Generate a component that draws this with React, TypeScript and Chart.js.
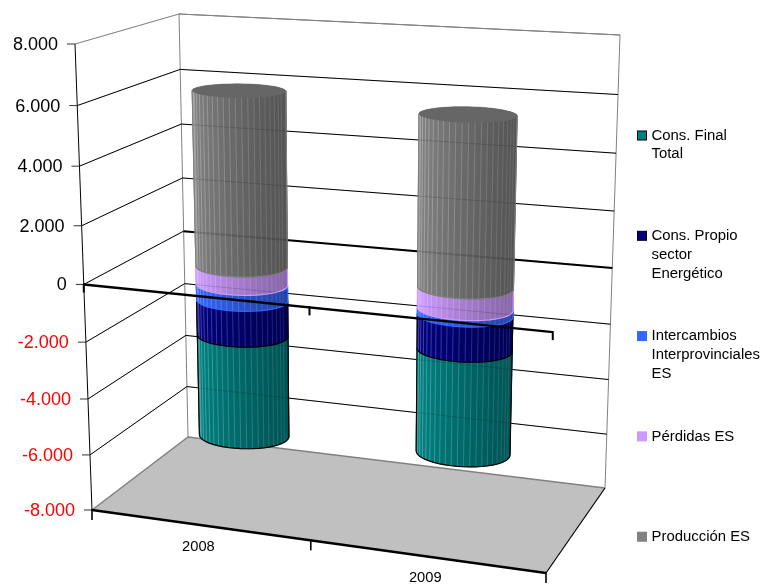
import React, { useEffect, useRef } from "react";
import { Chart, registerables, BarController, BarElement, LinearScale, CategoryScale } from "chart.js";

const categories = ["2008", "2009"];
const produccion = [6100, 5800];
const perdidas = [-640, -730];
const intercambios = [-560, -220];
const consPropio = [-1270, -1200];
const consFinal = [-3660, -3640];
const yTickMin = -8000;
const yTickMax = 8000;
const yTickStep = 2000;
const legendLabels: Record<string, string[]> = {
  "Cons. Final Total": ["Cons. Final", "Total"],
  "Cons. Propio sector Energético": ["Cons. Propio", "sector", "Energético"],
  "Intercambios Interprovinciales ES": ["Intercambios", "Interprovinciales", "ES"],
  "Pérdidas ES": ["Pérdidas ES"],
  "Producción ES": ["Producción ES"],
};

type P = { x: number; y: number };
const FONT = '"Liberation Sans", Arial, sans-serif';

function homography(q: number[][]) {
  const [[x0, y0], [x1, y1], [x2, y2], [x3, y3]] = q;
  const dx1 = x1 - x2, dx2 = x3 - x2, sx = x0 - x1 + x2 - x3;
  const dy1 = y1 - y2, dy2 = y3 - y2, sy = y0 - y1 + y2 - y3;
  const den = dx1 * dy2 - dx2 * dy1;
  const g = (sx * dy2 - dx2 * sy) / den;
  const h = (dx1 * sy - sx * dy1) / den;
  const a = x1 - x0 + g * x1, b = x3 - x0 + h * x3;
  const d = y1 - y0 + g * y1, e = y3 - y0 + h * y3;
  return (u: number, t: number): P => {
    const k = g * u + h * t + 1;
    return { x: (a * u + b * t + x0) / k, y: (d * u + e * t + y0) / k };
  };
}

// The box of the 3-D chart: top-left, top-right, bottom-right, bottom-left.
const front = homography([[75, 44], [560, 74], [546, 573], [92, 510]]);
const back = homography([[179, 14], [620, 35], [605, 488], [188, 437]]);
const project = (u: number, t: number, w: number): P => {
  const f = front(u, t), b = back(u, t);
  return { x: f.x + (b.x - f.x) * w, y: f.y + (b.y - f.y) * w };
};

const BAR_DEPTH = 0.52;
const BAR_DEPTH_RADIUS = 0.17;
const FACETS = 48;

function rgb(hex: string) {
  return [1, 3, 5].map((i) => parseInt(hex.slice(i, i + 2), 16));
}
function css(c: number[]) {
  return `rgb(${c.map((v) => Math.round(Math.min(255, v))).join(",")})`;
}

class CylinderElement extends BarElement {
  static id = "cylinder";
  draw(ctx: CanvasRenderingContext2D) {
    const chart = Chart.getChart(ctx.canvas);
    if (!chart) return;
    const area = chart.chartArea;
    const opts: any = (this as any).options;
    const { x, y, base, width } = (this as any).getProps(["x", "y", "base", "width"], true);
    const cu = (x - area.left) / area.width;
    const ru = width / area.width / 2;
    const t1 = (Math.min(y, base) - area.top) / area.height;
    const t2 = (Math.max(y, base) - area.top) / area.height;
    const colour = rgb(opts.backgroundColor);
    const ring = (t: number) => {
      const pts: P[] = [];
      for (let i = 0; i < FACETS; i++) {
        const a = (i / FACETS) * Math.PI * 2;
        pts.push(project(cu + ru * Math.cos(a), t, BAR_DEPTH + BAR_DEPTH_RADIUS * Math.sin(a)));
      }
      return pts;
    };
    const top = ring(t1), bot = ring(t2);
    ctx.save();
    ctx.lineJoin = "round";
    // back facets first, then the front ones
    const order = Array.from({ length: FACETS }, (_, i) => i).sort(
      (i, j) => Math.sin(((j + 0.5) / FACETS) * 2 * Math.PI) - Math.sin(((i + 0.5) / FACETS) * 2 * Math.PI)
    );
    for (const i of order) {
      const j = (i + 1) % FACETS;
      const a = ((i + 0.5) / FACETS) * Math.PI * 2;
      const k = 0.86 - 0.19 * Math.cos(a);
      const c = css(colour.map((v) => v * k));
      ctx.beginPath();
      ctx.moveTo(top[i].x, top[i].y);
      ctx.lineTo(top[j].x, top[j].y);
      ctx.lineTo(bot[j].x, bot[j].y);
      ctx.lineTo(bot[i].x, bot[i].y);
      ctx.closePath();
      ctx.fillStyle = c;
      ctx.strokeStyle = c;
      ctx.lineWidth = 0.6;
      ctx.fill();
      ctx.stroke();
    }
    // light ribs on the visible side
    for (let i = 0; i < FACETS; i++) {
      const a = (i / FACETS) * Math.PI * 2;
      if (Math.sin(a) >= -0.05) continue;
      const mix = 0.22 - 0.1 * Math.cos(a);
      const k = 0.86 - 0.19 * Math.cos(a);
      ctx.strokeStyle = css(colour.map((v) => v * k + (255 - v * k) * mix));
      ctx.lineWidth = 0.9;
      ctx.beginPath();
      ctx.moveTo(top[i].x, top[i].y);
      ctx.lineTo(bot[i].x, bot[i].y);
      ctx.stroke();
    }
    // outline of the visible side
    const extreme = (pts: P[], sign: number) =>
      pts.reduce((best, p, i) => (sign * p.x > sign * pts[best].x ? i : best), 0);
    const left = extreme(bot, -1), right = extreme(bot, 1);
    ctx.strokeStyle = opts.borderColor;
    ctx.lineWidth = 1.2;
    ctx.beginPath();
    ctx.moveTo(top[extreme(top, -1)].x, top[extreme(top, -1)].y);
    ctx.lineTo(bot[left].x, bot[left].y);
    for (let i = left; ; i = (i + 1) % FACETS) {
      ctx.lineTo(bot[i].x, bot[i].y);
      if (i === right) break;
    }
    ctx.lineTo(top[extreme(top, 1)].x, top[extreme(top, 1)].y);
    ctx.stroke();
    // cap
    if (y < base) {
      ctx.beginPath();
      top.forEach((p, i) => (i ? ctx.lineTo(p.x, p.y) : ctx.moveTo(p.x, p.y)));
      ctx.closePath();
      ctx.fillStyle = css(colour.map((v) => v * 0.8));
      ctx.fill();
    }
    ctx.restore();
  }
}

class CylinderController extends BarController {
  static id = "cylinder";
  static defaults = { dataElementType: "cylinder" };
}

class PerspectiveLinear extends LinearScale {
  static id = "perspectiveLinear";
  _computeLabelArea() {
    return undefined;
  }
  _computeLabelItems(chartArea: any) {
    const items = (LinearScale.prototype as any)._computeLabelItems.call(this, chartArea);
    const self: any = this;
    items.forEach((item: any, i: number) => {
      const t = (self.getPixelForValue(self.ticks[i].value) - self.top) / self.height;
      const p = project(0, t, 0);
      item.options.translation = [p.x - 17, p.y + 1];
      item.options.textAlign = "right";
      item.options.textBaseline = "middle";
      item.textOffset = 0;
    });
    return items;
  }
}

class PerspectiveCategory extends CategoryScale {
  static id = "perspectiveCategory";
  _computeLabelArea() {
    return undefined;
  }
  _computeLabelItems(chartArea: any) {
    const items = (CategoryScale.prototype as any)._computeLabelItems.call(this, chartArea);
    const self: any = this;
    items.forEach((item: any, i: number) => {
      const u = (self.getPixelForTick(i) - self.left) / self.width;
      const p = project(u, 1, 0);
      item.options.translation = [p.x - 1, p.y + 22];
      item.options.textAlign = "center";
      item.options.textBaseline = "middle";
      item.textOffset = 0;
    });
    return items;
  }
}

function line(ctx: CanvasRenderingContext2D, pts: P[], colour: string, width: number) {
  ctx.strokeStyle = colour;
  ctx.lineWidth = width;
  ctx.beginPath();
  pts.forEach((p, i) => (i ? ctx.lineTo(p.x, p.y) : ctx.moveTo(p.x, p.y)));
  ctx.stroke();
}

const levelT = (chart: any, value: number) => {
  const s = chart.scales.y;
  return (s.getPixelForValue(value) - s.top) / s.height;
};

function backGrid(chart: any, ctx: CanvasRenderingContext2D) {
  const s = chart.scales.y;
  s.ticks.forEach((tick: any) => {
    const t = levelT(chart, tick.value);
    const isTop = tick.value === s.max, isBottom = tick.value === s.min, isZero = tick.value === 0;
    if (isBottom) return;
    line(ctx, [project(0, t, 0), project(0, t, 1)], isTop ? "#808080" : "#000", 1);
    line(ctx, [project(0, t, 1), project(1, t, 1)], isTop ? "#808080" : "#000", isZero ? 2 : 1);
  });
}

const walls = {
  id: "walls",
  beforeDatasetsDraw(chart: any) {
    const ctx: CanvasRenderingContext2D = chart.ctx;
    ctx.save();
    ctx.lineCap = "butt";
    const a = project(0, 1, 0), b = project(1, 1, 0), c = project(1, 1, 1), d = project(0, 1, 1);
    ctx.fillStyle = "#C0C0C0";
    ctx.beginPath();
    [a, b, c, d].forEach((p, i) => (i ? ctx.lineTo(p.x, p.y) : ctx.moveTo(p.x, p.y)));
    ctx.closePath();
    ctx.fill();
    line(ctx, [a, d, c], "#808080", 1.5);
    line(ctx, [b, c], "#000", 1.2);
    line(ctx, [a, b], "#000", 2.4);
    line(ctx, [d, project(0, 0, 1), project(1, 0, 1), c], "#808080", 1);
    backGrid(chart, ctx);
    line(ctx, [project(0, 0, 0), a], "#000", 1);
    chart.scales.y.ticks.forEach((tick: any) => {
      const p = project(0, levelT(chart, tick.value), 0);
      line(ctx, [{ x: p.x - 8, y: p.y }, p], "#333", 1);
    });
    categories.concat("").forEach((_, i) => {
      const p = project(i / categories.length, 1, 0);
      line(ctx, [{ x: p.x, y: p.y - 1 }, { x: p.x, y: p.y + 10 }], "#000", 1.6);
    });
    ctx.restore();
  },
  afterDatasetsDraw(chart: any) {
    const ctx: CanvasRenderingContext2D = chart.ctx;
    ctx.save();
    ctx.globalAlpha = 0.14;
    backGrid(chart, ctx);
    ctx.globalAlpha = 1;
    const t = levelT(chart, 0);
    line(ctx, [project(0, t, 0), project(1, t, 0)], "#000", 2.4);
    categories.concat("").forEach((_, i) => {
      const p = project(i / categories.length, t, 0);
      line(ctx, [{ x: p.x, y: p.y - 1 }, { x: p.x, y: p.y + 8 }], "#000", 2);
    });
    ctx.restore();
  },
};

const legendPanel = {
  id: "legendPanel",
  afterDraw(chart: any) {
    const ctx: CanvasRenderingContext2D = chart.ctx;
    const LINE = 18.8, PITCH = 100.3;
    ctx.save();
    ctx.font = `14.9px ${FONT}`;
    ctx.textBaseline = "middle";
    ctx.textAlign = "left";
    ctx.fillStyle = "#000";
    [...chart.data.datasets].reverse().forEach((ds: any, i: number) => {
      const y = 135.5 + i * PITCH;
      ctx.fillStyle = ds.backgroundColor;
      ctx.fillRect(637.5, y - 4.5, 9, 9);
      ctx.strokeStyle = ds.borderColor;
      ctx.lineWidth = 1;
      ctx.strokeRect(637.5, y - 4.5, 9, 9);
      ctx.fillStyle = "#000";
      legendLabels[ds.label].forEach((text, j) => ctx.fillText(text, 651.5, y + j * LINE));
    });
    ctx.restore();
  },
};

Chart.register(...registerables, CylinderElement as any, CylinderController as any, PerspectiveLinear as any, PerspectiveCategory as any);

export default function App() {
  const ref = useRef<HTMLCanvasElement>(null);
  useEffect(() => {
    document.body.style.margin = "0";
    document.body.style.background = "#fff";
    const mk = (label: string, data: number[], backgroundColor: string, borderColor: string) => ({
      label, data, backgroundColor, borderColor, borderWidth: 1, clip: false as any,
      barPercentage: 0.4, categoryPercentage: 1,
    });
    const chart = new Chart(ref.current!, {
      type: "cylinder" as any,
      data: {
        labels: categories,
        datasets: [
          mk("Producción ES", produccion, "#808080", "#808080"),
          mk("Pérdidas ES", perdidas, "#CC99FF", "#CC99FF"),
          mk("Intercambios Interprovinciales ES", intercambios, "#3366FF", "#3366FF"),
          mk("Cons. Propio sector Energético", consPropio, "#000080", "#000000"),
          mk("Cons. Final Total", consFinal, "#008080", "#000000"),
        ],
      },
      options: {
        responsive: false,
        animation: false,
        layout: { padding: { top: 44, right: 200, bottom: 20, left: 10 } },
        plugins: { legend: { display: false }, title: { display: false }, tooltip: { enabled: false } },
        scales: {
          x: {
            type: "perspectiveCategory" as any,
            stacked: true,
            grid: { display: false },
            border: { display: false },
            ticks: { color: "#000", font: { family: FONT, size: 14.7 }, maxRotation: 0, minRotation: 0, autoSkip: false },
          },
          y: {
            type: "perspectiveLinear" as any,
            stacked: true,
            min: yTickMin,
            max: yTickMax,
            grid: { display: false },
            border: { display: false },
            ticks: {
              stepSize: yTickStep,
              autoSkip: false,
              color: (c: any) => (c.tick.value < 0 ? "#FF0000" : "#000000"),
              font: { family: FONT, size: 18 },
              callback: (v: any) => Number(v).toLocaleString("de-DE"),
            },
          },
        },
      },
      plugins: [walls, legendPanel],
    });
    return () => chart.destroy();
  }, []);
  return (
    <div style={{ position: "absolute", left: 0, top: 0, width: 762, height: 585, background: "#fff" }}>
      <canvas ref={ref} width={762} height={585} style={{ display: "block" }} />
    </div>
  );
}
